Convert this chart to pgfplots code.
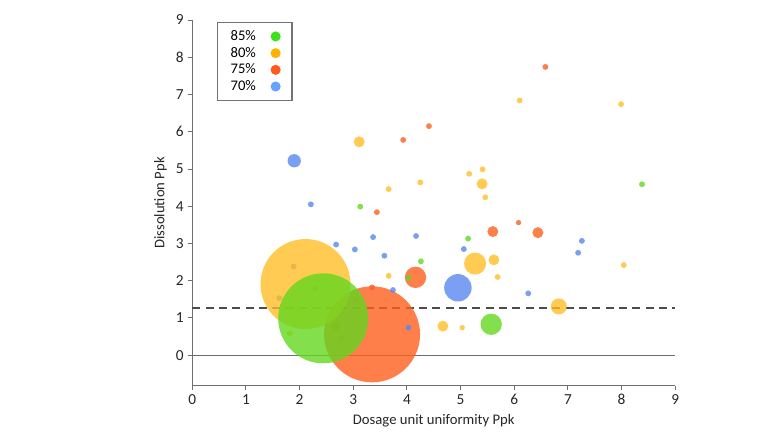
\documentclass[border=0pt]{standalone}
\usepackage{pgfplots}
\pgfplotsset{compat=1.18}
\usepackage{fontspec}
\setmainfont{Carlito}
\definecolor{cG}{RGB}{100,215,30}
\definecolor{cY}{RGB}{255,190,40}
\definecolor{cO}{RGB}{255,95,30}
\definecolor{cB}{RGB}{90,135,240}
\definecolor{lG}{RGB}{62,224,26}
\definecolor{lY}{RGB}{255,179,0}
\definecolor{lO}{RGB}{255,90,26}
\definecolor{lB}{RGB}{102,163,255}
\definecolor{axgray}{RGB}{110,110,110}

% all bubbles in drawing order (later ones on top)
\pgfplotstableread{
x y r c
1.89 2.38 2.2 B
1.62 1.53 2.2 B
2.29 1.80 2.2 B
1.82 0.59 2.2 Y
1.98 1.23 2.0 Y
2.68 0.77 4.0 G
2.78 0.46 2.2 G
3.06 1.48 2.0 O
3.35 1.82 2.2 O
3.35 0.56 36 O
2.11 1.91 33.75 Y
2.44 0.99 33.75 G
3.93 5.78 2.2 O
4.41 6.15 2.2 O
3.44 3.84 2.2 O
6.58 7.74 2.2 O
4.16 2.09 8.0 O
5.60 3.32 4.1 O
6.08 3.56 2.0 O
6.44 3.29 4.1 O
3.11 5.73 4.1 Y
3.66 4.46 2.2 Y
4.25 4.64 2.2 Y
6.10 6.84 2.2 Y
7.99 6.74 2.2 Y
5.16 4.87 2.2 Y
5.41 4.99 2.2 Y
5.40 4.60 4.1 Y
5.46 4.24 2.2 Y
3.66 2.13 2.2 Y
4.67 0.78 4.1 Y
5.27 2.46 8.25 Y
5.62 2.56 4.1 Y
5.69 2.10 2.2 Y
8.04 2.42 2.2 Y
6.83 1.31 6.0 Y
5.03 0.74 2.0 Y
3.13 3.99 2.2 G
4.26 2.52 2.2 G
4.03 2.07 2.2 G
5.14 3.13 2.2 G
8.38 4.59 2.2 G
5.57 0.83 8.0 G
1.90 5.22 5.0 B
2.21 4.05 2.2 B
2.68 2.97 2.2 B
3.03 2.84 2.2 B
3.37 3.17 2.2 B
3.58 2.67 2.2 B
4.17 3.20 2.2 B
3.74 1.75 2.2 B
4.03 0.74 2.2 B
5.06 2.85 2.2 B
4.95 1.81 10.3 B
7.26 3.07 2.2 B
7.19 2.75 2.2 B
6.26 1.66 2.2 B
}\bubbles

\begin{document}
\begin{tikzpicture}
\path[use as bounding box] (-144.2pt,-39.2pt) rectangle (440.8pt,289.3pt);
\begin{axis}[
  scale only axis,
  width=362.25pt, height=274.3pt,
  xmin=0, xmax=9, ymin=-0.82, ymax=9,
  axis lines=left,
  axis line style={-, axgray, line width=0.9pt},
  tick align=outside,
  tick pos=left,
  major tick length=3pt,
  tick style={axgray, line width=0.7pt},
  xtick={0,...,9}, ytick={0,...,9},
  ticklabel style={font=\fontsize{11.5}{13}\selectfont, text=black!85},
  /pgf/number format/assume math mode=true,
  label style={font=\fontsize{11}{13}\selectfont, text=black!85},
  xlabel={Dosage unit uniformity Ppk},
  ylabel={Dissolution Ppk},
  clip=false,
  legend plot pos=right,
  legend cell align=left,
  legend style={at={(axis cs:0.455,8.95)}, anchor=north west,
    draw=black!55, line width=0.9pt,
    font=\fontsize{11}{12.75}\selectfont,
    inner xsep=8pt, inner ysep=4pt,
    row sep=-0.5pt,
    /tikz/every odd column/.append style={column sep=9pt}},
]
\addlegendimage{legend image code/.code={\path (-3.3pt,0) (3.8pt,0); \fill[lG] (0,0) circle (3.3pt);}}
\addlegendentry{85\%}
\addlegendimage{legend image code/.code={\path (-3.3pt,0) (3.8pt,0); \fill[lY] (0,0) circle (3.3pt);}}
\addlegendentry{80\%}
\addlegendimage{legend image code/.code={\path (-3.3pt,0) (3.8pt,0); \fill[lO] (0,0) circle (3.3pt);}}
\addlegendentry{75\%}
\addlegendimage{legend image code/.code={\path (-3.3pt,0) (3.8pt,0); \fill[lB] (0,0) circle (3.3pt);}}
\addlegendentry{70\%}

\addplot[axgray, line width=0.8pt, forget plot] coordinates {(0,0) (9,0)};
\addplot[scatter, only marks, mark=*, forget plot,
  scatter src=explicit symbolic,
  scatter/classes={
    O={draw=cO, draw opacity=0, fill=cO, fill opacity=0.8},
    Y={draw=cY, draw opacity=0, fill=cY, fill opacity=0.8},
    G={draw=cG, draw opacity=0, fill=cG, fill opacity=0.8},
    B={draw=cB, draw opacity=0, fill=cB, fill opacity=0.8}},
  visualization depends on={\thisrow{r} \as \rad},
  scatter/@pre marker code/.append style={/tikz/mark size=\rad pt}]
  table[x=x, y=y, meta=c] {\bubbles};
\addplot[black!70, line width=1.5pt, dash pattern=on 6pt off 4pt, forget plot] coordinates {(0,1.27) (9,1.27)};
\end{axis}
\end{tikzpicture}
\end{document}
